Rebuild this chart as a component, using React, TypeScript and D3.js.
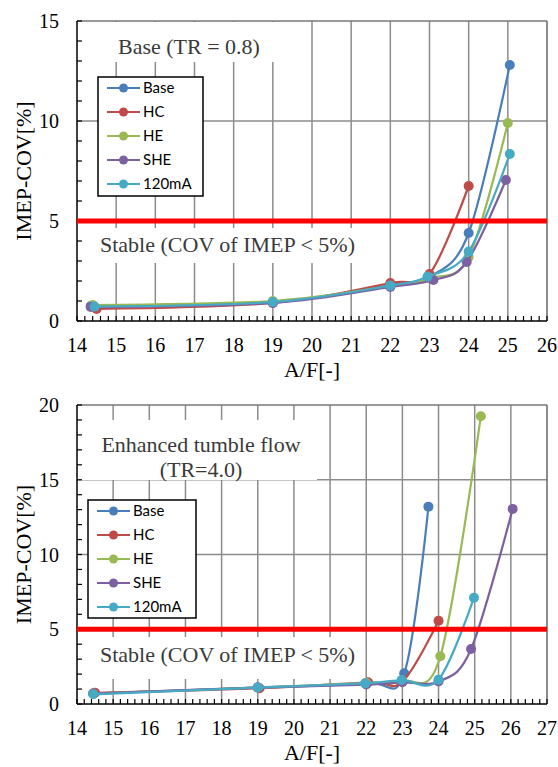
import React from "react";
import * as d3 from "d3";

// series names and colours (same for both panels)
const seriesNames = ["Base", "HC", "HE", "SHE", "120mA"];
const seriesColors = ["#4a7ebb", "#be4b48", "#98b954", "#7d60a0", "#46aac5"];

// top panel: Base (TR = 0.8)
const topBaseX = [14.35, 19, 22, 23, 24, 25.05];
const topBaseY = [0.75, 0.95, 1.8, 2.2, 4.4, 12.8];
const topHCX = [14.5, 19, 22, 23, 24];
const topHCY = [0.6, 0.9, 1.9, 2.35, 6.75];
const topHEX = [14.4, 19, 22, 23, 24, 25];
const topHEY = [0.8, 1.0, 1.75, 2.15, 3.2, 9.9];
const topSHEX = [14.35, 19, 22, 23.1, 23.95, 24.95];
const topSHEY = [0.7, 0.9, 1.7, 2.05, 2.95, 7.05];
const top120X = [14.45, 19, 22, 22.95, 24, 25.05];
const top120Y = [0.72, 0.95, 1.77, 2.22, 3.47, 8.35];

// bottom panel: Enhanced tumble flow (TR=4.0)
const botBaseX = [14.45, 19, 22, 23.05, 23.72];
const botBaseY = [0.7, 1.1, 1.4, 2.05, 13.2];
const botHCX = [14.5, 19.05, 22.05, 23, 24];
const botHCY = [0.75, 1.05, 1.45, 1.5, 5.57];
const botHEX = [14.45, 19, 22, 23, 24.05, 25.17];
const botHEY = [0.7, 1.1, 1.4, 1.55, 3.19, 19.25];
const botSHEX = [14.45, 19, 22, 23, 24, 24.9, 26.05];
const botSHEY = [0.7, 1.1, 1.3, 1.45, 1.5, 3.68, 13.05];
const bot120X = [14.45, 19, 21.97, 22.98, 24, 24.98];
const bot120Y = [0.65, 1.1, 1.38, 1.6, 1.63, 7.11];

const topXTicks = [14, 15, 16, 17, 18, 19, 20, 21, 22, 23, 24, 25, 26];
const topYTicks = [0, 5, 10, 15];
const botXTicks = [14, 15, 16, 17, 18, 19, 20, 21, 22, 23, 24, 25, 26, 27];
const botYTicks = [0, 5, 10, 15, 20];
const stableLimit = 5;

const serif = "'Liberation Serif', 'Times New Roman', serif";

function zip(xs, ys) {
  return xs.map((x, i) => [x, ys[i]]);
}

function Panel(props) {
  const { top, bottom, xTicks, yTicks, series, boxes, texts, legend } = props;
  const left = 77;
  const right = 547;
  const x = d3.scaleLinear().domain([xTicks[0], xTicks[xTicks.length - 1]]).range([left, right]);
  const y = d3.scaleLinear().domain([0, yTicks[yTicks.length - 1]]).range([bottom, top]);
  const line = d3
    .line()
    .x(d => x(d[0]))
    .y(d => y(d[1]))
    .curve(d3.curveCardinal.tension(0));

  const xMinor = d3.range(xTicks[0], xTicks[xTicks.length - 1] + 0.001, 0.2);
  const yMinor = d3.range(0, yTicks[yTicks.length - 1] + 0.001, 1);

  return (
    <g>
      {/* grid */}
      {xTicks.slice(1, -1).map(t => (
        <line key={"gx" + t} x1={x(t)} x2={x(t)} y1={top} y2={bottom} stroke="#8c8c8c" strokeWidth={1.5} />
      ))}
      {yTicks.slice(1, -1).map(t => (
        <line key={"gy" + t} x1={left} x2={right} y1={y(t)} y2={y(t)} stroke="#8c8c8c" strokeWidth={1.5} />
      ))}
      {/* white label boxes */}
      {boxes.map((b, i) => (
        <rect key={"b" + i} x={b[0]} y={b[1]} width={b[2] - b[0]} height={b[3] - b[1]} fill="#fff" />
      ))}
      {/* frame */}
      <line x1={left} x2={right} y1={top} y2={top} stroke="#777" strokeWidth={1.5} />
      <line x1={right} x2={right} y1={top} y2={bottom} stroke="#666" strokeWidth={1.5} />
      <line x1={left} x2={left} y1={top} y2={bottom} stroke="#000" strokeWidth={1.5} />
      <line x1={left} x2={right} y1={bottom} y2={bottom} stroke="#000" strokeWidth={1.5} />
      {xMinor.map((t, i) => (
        <line key={"mx" + i} x1={x(t)} x2={x(t)} y1={bottom} y2={bottom - 5} stroke="#000" strokeWidth={1.2} />
      ))}
      {yMinor.map((t, i) => (
        <line key={"my" + i} x1={left} x2={left + 5} y1={y(t)} y2={y(t)} stroke="#000" strokeWidth={1.2} />
      ))}
      {/* tick labels */}
      {xTicks.map(t => (
        <text key={"lx" + t} x={x(t)} y={bottom + 31} textAnchor="middle" fontFamily={serif} fontSize={20} fill="#000">
          {t}
        </text>
      ))}
      {yTicks.map(t => (
        <text key={"ly" + t} x={left - 18} y={y(t) + 7} textAnchor="end" fontFamily={serif} fontSize={20} fill="#000">
          {t}
        </text>
      ))}
      {/* axis titles */}
      <text
        transform={`translate(31,${(top + bottom) / 2}) rotate(-90)`}
        textAnchor="middle"
        fontFamily={serif}
        fontSize={22}
        fill="#000"
      >
        IMEP-COV[%]
      </text>
      <text x={(left + right) / 2} y={bottom + 56} textAnchor="middle" fontFamily={serif} fontSize={22} fill="#000">
        A/F[-]
      </text>
      {/* annotations */}
      {texts.map((t, i) => (
        <text key={"t" + i} x={t.x} y={t.y} textAnchor={t.anchor} fontFamily={serif} fontSize={22} fill="#3a3a3a">
          {t.s}
        </text>
      ))}
      {/* series */}
      {series.map((s, i) => (
        <g key={"s" + i}>
          <path d={line(s)} fill="none" stroke={seriesColors[i]} strokeWidth={2.2} />
          {s.map((p, j) => (
            <circle key={j} cx={x(p[0])} cy={y(p[1])} r={5} fill={seriesColors[i]} />
          ))}
        </g>
      ))}
      {/* stability limit */}
      <line x1={left} x2={right} y1={y(stableLimit)} y2={y(stableLimit)} stroke="#ff0000" strokeWidth={5} />
      {/* legend */}
      <rect
        x={legend.x0}
        y={legend.y0}
        width={legend.x1 - legend.x0}
        height={legend.y1 - legend.y0}
        fill="#fff"
        stroke="#000"
        strokeWidth={1.5}
      />
      {seriesNames.map((n, i) => {
        const ry = legend.y0 + 11 + i * legend.step;
        return (
          <g key={"lg" + n}>
            <line x1={legend.x0 + 9} x2={legend.x0 + 42} y1={ry} y2={ry} stroke={seriesColors[i]} strokeWidth={2.2} />
            <circle cx={legend.x0 + 25.5} cy={ry} r={4.5} fill={seriesColors[i]} />
            <text x={legend.x0 + 45} y={ry + 5} fontFamily="Lato, 'Open Sans', sans-serif" fontSize={15} fill="#000">
              {n}
            </text>
          </g>
        );
      })}
    </g>
  );
}

export default function App() {
  const topSeries = [
    zip(topBaseX, topBaseY),
    zip(topHCX, topHCY),
    zip(topHEX, topHEY),
    zip(topSHEX, topSHEY),
    zip(top120X, top120Y),
  ];
  const botSeries = [
    zip(botBaseX, botBaseY),
    zip(botHCX, botHCY),
    zip(botHEX, botHEY),
    zip(botSHEX, botSHEY),
    zip(bot120X, bot120Y),
  ];
  return (
    <svg width={558} height={767} style={{ position: "absolute", left: 0, top: 0, background: "#fff" }}>
      <rect width={558} height={767} fill="#fff" />
      <Panel
        top={21}
        bottom={321}
        xTicks={topXTicks}
        yTicks={topYTicks}
        series={topSeries}
        boxes={[
          [78, 22, 282, 62],
          [90, 228, 362, 263],
        ]}
        texts={[
          { x: 118, y: 54, s: "Base (TR = 0.8)", anchor: "start" },
          { x: 100, y: 252, s: "Stable (COV of IMEP < 5%)", anchor: "start" },
        ]}
        legend={{ x0: 98, y0: 77, x1: 203, y1: 196, step: 24 }}
      />
      <Panel
        top={405}
        bottom={704}
        xTicks={botXTicks}
        yTicks={botYTicks}
        series={botSeries}
        boxes={[
          [78, 420, 317, 480],
          [90, 637, 365, 679],
        ]}
        texts={[
          { x: 201, y: 452, s: "Enhanced tumble flow", anchor: "middle" },
          { x: 201, y: 477, s: "(TR=4.0)", anchor: "middle" },
          { x: 100, y: 662, s: "Stable (COV of IMEP < 5%)", anchor: "start" },
        ]}
        legend={{ x0: 88, y0: 500, x1: 196, y1: 618, step: 24 }}
      />
    </svg>
  );
}
